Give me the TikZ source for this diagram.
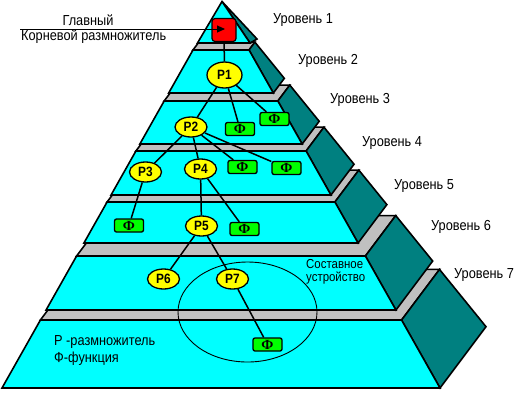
\documentclass[tikz,border=0pt]{standalone}
\usepackage{fontspec}
\setmainfont{Liberation Sans}[FakeStretch=0.88]
\newfontfamily\serf{Liberation Serif}
\usetikzlibrary{shapes.geometric,arrows.meta}
\definecolor{cy}{HTML}{00FFFF}
\definecolor{gr}{HTML}{C0C0C0}
\definecolor{tl}{HTML}{008080}
\definecolor{ye}{HTML}{FFFF00}
\definecolor{gn}{HTML}{00FF00}
\definecolor{rd}{HTML}{FF0000}
\newcommand{\tierdraw}[2]{%
 \pgfmathsetmacro{\Lt}{2+0.565*(388-#1)}%
 \pgfmathsetmacro{\Rt}{440-0.565*(388-#1)}%
 \pgfmathsetmacro{\Lb}{2+0.565*(388-#2)}%
 \pgfmathsetmacro{\Rb}{440-0.565*(388-#2)}%
 \pgfmathsetmacro{\wt}{\Rt-\Lt}%
 \pgfmathsetmacro{\wb}{\Rb-\Lb}%
 \pgfmathsetmacro{\dxt}{0.105*\wt}\pgfmathsetmacro{\dyt}{0.14*\wt}%
 \pgfmathsetmacro{\dxb}{0.105*\wb}\pgfmathsetmacro{\dyb}{0.14*\wb}%
 \path[face,fill=gr] (\Lt,#1) -- (\Rt,#1) -- ({\Rt+\dxt},{#1-\dyt}) -- ({\Lt+\dxt},{#1-\dyt}) -- cycle;
 \path[face,fill=tl] (\Rb,#2) -- ({\Rb+\dxb},{#2-\dyb}) -- ({\Rt+\dxt},{#1-\dyt}) -- (\Rt,#1) -- cycle;
 \path[face,fill=cy] (\Lb,#2) -- (\Rb,#2) -- (\Rt,#1) -- (\Lt,#1) -- cycle;
}
\begin{document}
\begin{tikzpicture}[x=1pt,y=-1pt,
 face/.style={draw=black,line width=1.6pt,line join=miter},
 pnode/.style={ellipse,draw=black,fill=ye,line width=1.3pt,minimum width=32pt,minimum height=20pt,inner sep=0pt,font=\fontsize{13.5}{13.5}\selectfont\bfseries},
 fbox/.style={rectangle,rounded corners=2pt,draw=black,fill=gn,line width=1.3pt,minimum width=29pt,minimum height=13pt,inner sep=0pt,font=\serf\bfseries\fontsize{14}{14}\selectfont},
 conn/.style={draw=black,line width=1.5pt},
 lbl/.style={anchor=west,inner sep=0pt,font=\fontsize{14.5}{14.5}\selectfont},
 slbl/.style={anchor=west,inner sep=0pt,font=\fontsize{13}{13}\selectfont}]
\useasboundingbox (0,0) rectangle (516,392);
% pyramid tiers, bottom to top
\tierdraw{320}{388}
\tierdraw{256}{310}
\tierdraw{202}{243}
\tierdraw{151}{195}
\tierdraw{101}{144}
\tierdraw{50}{93}
% top tier
\path[face,fill=tl] (222,1.5) -- (250,43) -- (257,39) -- cycle;
\path[face,fill=cy] (222,1.5) -- (250,43) -- (197.5,43) -- cycle;
% composite device
\node[ellipse,draw=black,line width=0.9pt,minimum width=139pt,minimum height=100pt,inner sep=0pt] (comp) at (247.5,312) {};
% root
\node[rectangle,rounded corners=3pt,draw=black,fill=rd,line width=1.2pt,minimum width=24pt,minimum height=23pt,inner sep=0pt] (root) at (224,30) {};
\coordinate (lstart) at (20,29);
\coordinate (tip) at (225,29);
\draw[line width=1pt,-{Triangle[length=8pt,width=7pt]}] (lstart) -- (tip);
% multipliers
\node[pnode,minimum width=35pt,minimum height=26pt] (p1) at (224.5,75) {Р1};
\node[pnode] (p2) at (191,127) {Р2};
\node[pnode] (p3) at (145.5,172) {Р3};
\node[pnode] (p4) at (200.5,169) {Р4};
\node[pnode] (p5) at (201.5,226) {Р5};
\node[pnode] (p6) at (163.5,279) {Р6};
\node[pnode] (p7) at (232.5,279) {Р7};
% functions
\node[fbox] (f1) at (274.5,119) {Ф};
\node[fbox] (f2) at (240,129) {Ф};
\node[fbox] (f3) at (242.5,167) {Ф};
\node[fbox] (f4) at (286.5,168) {Ф};
\node[fbox] (f5) at (129,225.5) {Ф};
\node[fbox] (f6) at (244.5,229) {Ф};
\node[fbox] (f7) at (267.5,344.5) {Ф};
% connectors
\draw[conn] (root) -- (p1);
\draw[conn] (p1) -- (p2);
\draw[conn] (p1) -- (f2);
\draw[conn] (p1) -- (f1);
\draw[conn] (p2) -- (p3);
\draw[conn] (p2) -- (p4);
\draw[conn] (p2) -- (f3);
\draw[conn] (p2) -- (f4);
\draw[conn] (p3) -- (f5);
\draw[conn] (p4) -- (p5);
\draw[conn] (p4) -- (f6);
\draw[conn] (p5) -- (p6);
\draw[conn] (p5) -- (p7);
\draw[conn] (p7) -- (f7);
% labels
\node[anchor=center,inner sep=0pt,font=\fontsize{14.5}{14.5}\selectfont] (glav) at (88,20) {Главный};
\node[lbl] (korn) at (21,37) {Корневой размножитель};
\node[lbl] (u1) at (273,20) {Уровень 1};
\node[lbl] (u2) at (298,61) {Уровень 2};
\node[lbl] (u3) at (330,100) {Уровень 3};
\node[lbl] (u4) at (362,143) {Уровень 4};
\node[lbl] (u5) at (394,186) {Уровень 5};
\node[lbl] (u6) at (431,227) {Уровень 6};
\node[lbl] (u7) at (454,275) {Уровень 7};
\node[slbl] (sost1) at (306,264) {Составное};
\node[slbl] (sost2) at (306,278) {устройство};
\node[lbl] (leg1) at (54,342) {Р -размножитель};
\node[lbl] (leg2) at (54,359) {Ф-функция};
\end{tikzpicture}
\end{document}
